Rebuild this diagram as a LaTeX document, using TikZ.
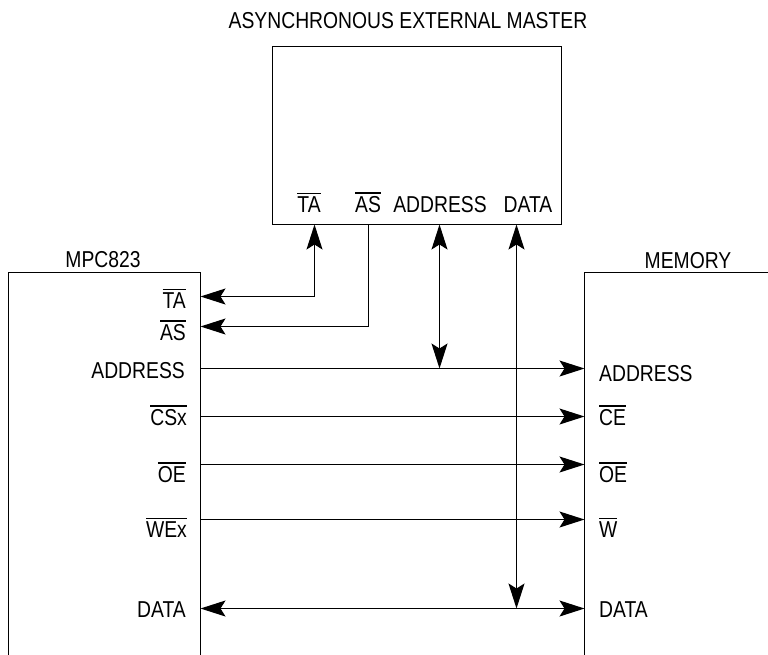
\documentclass[tikz,border=0pt]{standalone}
\usepackage{fontspec}
\setmainfont[FakeStretch=0.84]{Liberation Sans}
\usetikzlibrary{arrows.meta}
\newcommand\ovl[1]{\vbox{\hrule height 1.3pt\kern 2.2pt\hbox{#1}}}
\begin{document}
\begin{tikzpicture}[x=1pt,y=-1pt,
  >={Stealth[length=25pt,width=16pt,inset=5pt]},
  wire/.style={line width=1.2pt},
  lbl/.style={inner sep=0pt,font=\fontsize{23}{25}\selectfont},
  lpin/.style={lbl,anchor=base east},
  rpin/.style={lbl,anchor=base west},
  tpin/.style={lbl,anchor=base}]
\useasboundingbox (0,0) rectangle (768,654);
% boxes
\draw[wire] (272.5,46.5) rectangle (561.5,224.5);
\draw[wire] (8.5,660) -- (8.5,272.5) -- (200.5,272.5) -- (200.5,660);
\draw[wire] (770,272.5) -- (584.5,272.5) -- (584.5,660);
% titles
\node[tpin] (ttl) at (408,28) {ASYNCHRONOUS EXTERNAL MASTER};
\node[tpin] (tmpc) at (103,267) {MPC823};
\node[tpin] (tmem) at (688,268) {MEMORY};
% top box labels
\node[tpin] (xTA) at (309,212) {\ovl{TA}};
\node[tpin] (xAS) at (368,212) {\ovl{AS}};
\node[tpin] (xAD) at (440,212) {ADDRESS};
\node[tpin] (xDA) at (528,212) {DATA};
% left labels
\node[lpin] (lTA) at (186,308) {\ovl{TA}};
\node[lpin] (lAS) at (186,340) {\ovl{AS}};
\node[lpin] (lAD) at (185,378) {ADDRESS};
\node[lpin] (lCS) at (187,425) {\ovl{CSx}};
\node[lpin] (lOE) at (186,482) {\ovl{OE}};
\node[lpin] (lWE) at (187,537) {\ovl{WEx}};
\node[lpin] (lDA) at (186,617) {DATA};
% right labels
\node[rpin] (rAD) at (599,381) {ADDRESS};
\node[rpin] (rCE) at (599,425) {\ovl{CE}};
\node[rpin] (rOE) at (599,482) {\ovl{OE}};
\node[rpin] (rW)  at (599,537) {\ovl{W}};
\node[rpin] (rDA) at (599,617) {DATA};
% pin coordinates
\coordinate (eTA) at (314.5,224.5);
\coordinate (eAS) at (368.5,224.5);
\coordinate (eAD) at (439.5,224.5);
\coordinate (eDA) at (516.5,224.5);
\coordinate (mTA) at (200.5,296.5);
\coordinate (mAS) at (200.5,326.5);
\coordinate (mAD) at (200.5,368.5);
\coordinate (mCS) at (200.5,416.5);
\coordinate (mOE) at (200.5,464.5);
\coordinate (mWE) at (200.5,519.5);
\coordinate (mDA) at (200.5,608.5);
\coordinate (kAD) at (584.5,368.5);
\coordinate (kCE) at (584.5,416.5);
\coordinate (kOE) at (584.5,464.5);
\coordinate (kW)  at (584.5,519.5);
\coordinate (kDA) at (584.5,608.5);
\coordinate (jAD) at (439.5,368.5);
\coordinate (jDA) at (516.5,608.5);
% connectors
\draw[wire,<->] (eTA) |- (mTA);
\draw[wire,->] (eAS) |- (mAS);
\draw[wire,<->] (eAD) -- (jAD);
\draw[wire,<->] (eDA) -- (jDA);
\draw[wire,->] (mAD) -- (kAD);
\draw[wire,->] (mCS) -- (kCE);
\draw[wire,->] (mOE) -- (kOE);
\draw[wire,->] (mWE) -- (kW);
\draw[wire,<->] (mDA) -- (kDA);
\end{tikzpicture}
\end{document}
